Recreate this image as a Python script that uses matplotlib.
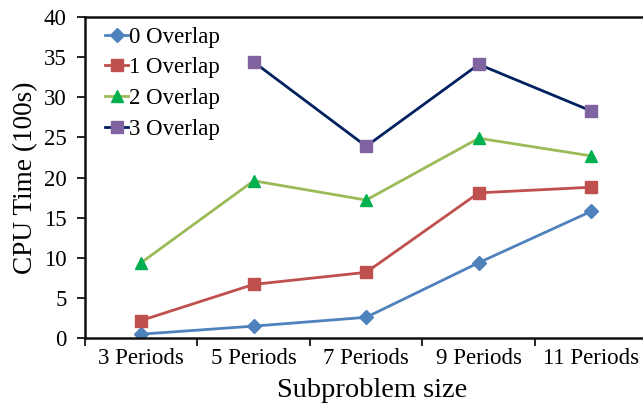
import matplotlib.pyplot as plt
import numpy as np

plt.rcParams['font.family'] = ['Liberation Serif', 'DejaVu Serif']

categories = ['3 Periods', '5 Periods', '7 Periods', '9 Periods', '11 Periods']
overlap0 = [0.5, 1.5, 2.6, 9.4, 15.8]
overlap1 = [2.2, 6.7, 8.2, 18.1, 18.8]
overlap2 = [9.4, 19.6, 17.2, 24.9, 22.7]
overlap3 = [np.nan, 34.4, 23.9, 34.1, 28.3]

fig = plt.figure(figsize=(6.43, 4.05), dpi=100)
ax = fig.add_axes([0.132, 0.165, 0.875, 0.793])

x = np.arange(len(categories))
ax.plot(x, overlap0, color='#4F81BD', lw=2, marker='D', ms=7,
        mfc='#4F81BD', mec='#4F81BD', label='0 Overlap')
ax.plot(x, overlap1, color='#C0504D', lw=2, marker='s', ms=8.5,
        mfc='#C0504D', mec='#C0504D', label='1 Overlap')
ax.plot(x, overlap2, color='#9BBB59', lw=2, marker='^', ms=8.5,
        mfc='#00B050', mec='#00B050', label='2 Overlap')
ax.plot(x, overlap3, color='#002060', lw=2, marker='s', ms=8.5,
        mfc='#8064A2', mec='#8064A2', label='3 Overlap')

ax.set_xlim(-0.5, len(categories) - 0.5)
ax.set_ylim(0, 40)
ax.set_yticks(np.arange(0, 41, 5))
ax.set_xticks(x)
ax.set_xticklabels(categories)
ax.set_xticks(np.arange(-0.5, len(categories)), minor=True)
ax.tick_params(axis='x', which='major', length=0, labelsize=16.5, pad=7)
ax.tick_params(axis='x', which='minor', length=6, width=1.2, direction='out')
ax.tick_params(axis='y', length=6, width=1.2, direction='out', labelsize=16.5, pad=7)

for s in ax.spines.values():
    s.set_linewidth(1.8)
    s.set_color('#111111')
ax.spines['right'].set_visible(False)

ax.set_xlabel('Subproblem size', fontsize=20.5, labelpad=4)
ax.xaxis.set_label_coords(0.511, -0.125)
ax.set_ylabel('CPU Time (100s)', fontsize=19.6, labelpad=4)

ax.legend(loc='upper left', frameon=False, fontsize=16.5, handlelength=1.0,
          handletextpad=0.05, labelspacing=0.42, borderaxespad=0.0,
          borderpad=0.0, bbox_to_anchor=(0.036, 0.97))

fig.savefig('out.png', dpi=100)
